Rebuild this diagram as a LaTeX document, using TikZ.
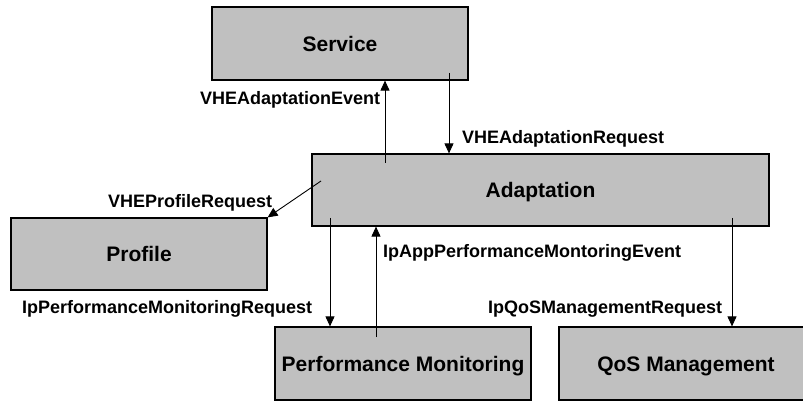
\documentclass[tikz,border=0pt]{standalone}
\usepackage{fontspec}
\setmainfont{Liberation Sans}
\usetikzlibrary{arrows.meta}
\definecolor{boxgray}{HTML}{C0C0C0}
\begin{document}
\begin{tikzpicture}[x=1pt,y=-1pt,
  box/.style={draw=black,line width=1.2pt,fill=boxgray,rectangle,inner sep=0pt,
    font=\fontsize{21}{24}\selectfont\bfseries,text height=15.3pt,text depth=0pt},
  lbl/.style={inner sep=0pt,anchor=base west,font=\fontsize{18}{20}\selectfont\bfseries},
  arr/.style={line width=0.9pt,-{Triangle[length=10pt,width=9pt]}}]
\useasboundingbox (0,0) rectangle (803,403);
\begin{scope}
\clip (0,0) rectangle (803,403);
\node[box,minimum width=256pt,minimum height=73pt] (service) at (340,43.5) {Service};
\node[box,minimum width=457pt,minimum height=72pt] (adapt) at (540.5,190) {Adaptation};
\node[box,minimum width=256pt,minimum height=72pt] (profile) at (139,254) {Profile};
\node[box,minimum width=256pt,minimum height=73pt] (perf) at (403,363.5) {Performance Monitoring};
\node[box,minimum width=254pt,minimum height=73pt] (qos) at (686,363.5) {QoS Management};
\end{scope}
% connector start points inside the boxes
\coordinate (evS) at (385,163);
\coordinate (reqS) at (449,73);
\coordinate (profS) at (321,181);
\coordinate (pmS) at (330,218);
\coordinate (pmE) at (376,337);
\coordinate (qS) at (732,218);
\draw[arr] (evS) -- (evS |- service.south);
\draw[arr] (reqS) -- (reqS |- adapt.north);
\draw[arr] (profS) -- (profile.north east);
\draw[arr] (pmS) -- (pmS |- perf.north);
\draw[arr] (pmE) -- (pmE |- adapt.south);
\draw[arr] (qS) -- (qS |- qos.north);
% labels
\node[lbl] (l1) at (200,105) {VHEAdaptationEvent};
\node[lbl] (l2) at (462,144) {VHEAdaptationRequest};
\node[lbl] (l3) at (108,208) {VHEProfileRequest};
\node[lbl] (l4) at (22,313) {IpPerformanceMonitoringRequest};
\node[lbl] (l5) at (383,258) {IpAppPerformanceMontoringEvent};
\node[lbl] (l6) at (488,313) {IpQoSManagementRequest};
\end{tikzpicture}
\end{document}
